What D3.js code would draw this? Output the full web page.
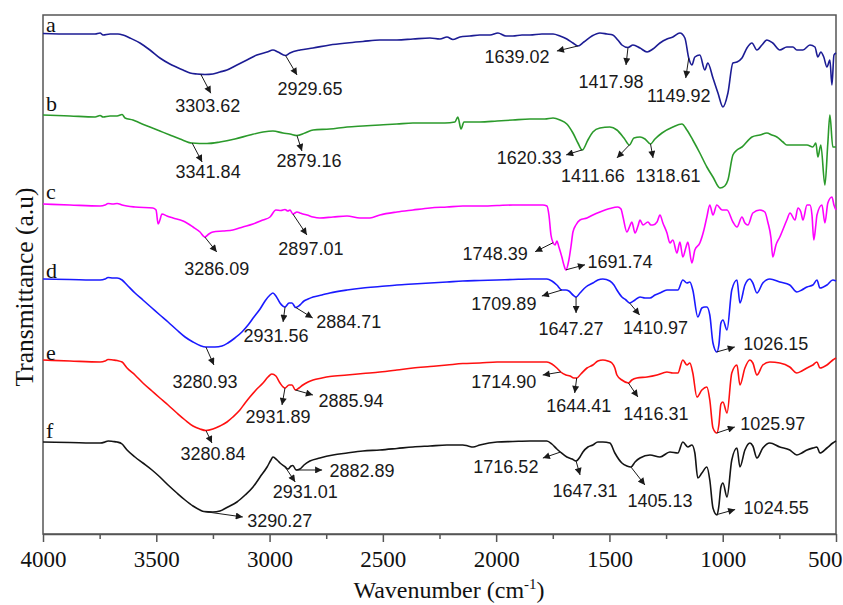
<!DOCTYPE html>
<html>
<head>
<meta charset="utf-8">
<script src="https://cdn.jsdelivr.net/npm/d3@7"></script>
<style>
  html, body { margin: 0; padding: 0; background: #fff; }
  svg { display: block; }
</style>
</head>
<body>
<svg id="chart" width="843" height="605"></svg>
<script>
// FTIR spectra, samples a–f, stacked with vertical offsets (transmittance, a.u.)
// Each series: [wavenumber (cm-1), transmittance (a.u., offset)]
const seriesA = [[4000,500.5],[3881,500],[3770,500],[3748,501],[3735,499],[3704,500],[3669,500],[3647,499],[3616,496],[3572,491],[3528,484],[3484,476],[3440,470],[3382,464],[3351,461],[3320,460],[3285,459.5],[3250,460],[3219,462],[3188,464],[3144,469],[3100,474],[3056,479],[3011,482],[2985,484],[2963,482],[2930,478.5],[2910,481],[2866,484],[2808,486],[2734,489],[2658,491],[2588,492.5],[2513,494],[2438,494],[2367,495],[2292,496],[2248,495],[2217,497],[2191,494.5],[2160,497],[2116,498],[2072,499],[2027,499],[1992,501],[1957,498],[1926,498],[1886,499],[1851,499],[1798,500],[1749,500],[1718,498],[1688,495],[1661,491],[1639,488],[1613,492],[1577,498],[1542,501],[1511,500],[1485,499],[1463,494],[1445,489],[1418,486.5],[1396,489],[1365,486],[1334,482],[1308,485],[1277,491],[1246,495],[1220,497],[1189,501],[1167,496],[1150,476],[1136,469],[1123,477],[1101,479],[1079,464],[1066,471],[1043,456],[1021,441],[999,427],[977,441],[955,471],[937,472],[915,476],[893,486],[871,491],[849,484],[827,489],[805,494],[779,491],[748,484],[717,487],[690,487],[673,484],[646,484],[615,489],[593,487],[580,477],[567,482],[554,477],[540,467],[527,474],[518,449],[509,479],[500,481]];

const seriesB = [[4000,419],[3881,418],[3770,417],[3748,418.5],[3735,417],[3704,418],[3673,418],[3651,419.5],[3638,416],[3603,414],[3572,411],[3528,407],[3484,403],[3440,399],[3395,395],[3343,391],[3276,390.5],[3219,392],[3153,395],[3087,399],[3029,402],[2985,403],[2941,401],[2910,400],[2879,398.5],[2844,401],[2808,404],[2734,405],[2658,407],[2588,408],[2513,409],[2438,410],[2367,411],[2292,411],[2226,411],[2182,412],[2169,417],[2155,405],[2142,412],[2072,412],[1996,413],[1926,414],[1851,415],[1785,415],[1749,416],[1718,414],[1688,410],[1661,401],[1639,391],[1620,384],[1595,394],[1573,402],[1542,406],[1498,407],[1467,404],[1436,396],[1412,389],[1392,396],[1365,397],[1343,395],[1319,390],[1299,395],[1268,401],[1220,407],[1180,410],[1158,404],[1132,394],[1101,381],[1070,367],[1043,357],[1012,346],[991,348],[977,354],[955,379],[937,384],[915,387],[871,397],[836,399],[805,401],[783,399],[761,397],[734,392],[717,389],[681,389],[659,389],[628,389],[602,387],[589,391],[580,377],[567,389],[549,349],[536,391],[527,419],[514,387],[500,387]];

const seriesC = [[4000,330],[3881,329],[3748,328],[3726,329],[3713,330.5],[3691,330],[3673,330.5],[3651,329],[3594,327],[3515,326],[3501,324],[3492,310],[3484,314],[3475,320],[3453,318],[3426,316],[3382,313],[3338,307],[3307,302],[3286,297],[3268,300],[3250,302],[3206,303],[3162,304],[3118,307],[3073,310],[3029,314],[2998,317],[2972,324],[2950,323.5],[2932,324.5],[2919,323],[2910,324],[2897,320],[2879,322],[2866,321],[2853,320],[2835,319],[2808,317],[2778,316],[2720,317],[2658,318],[2601,316],[2557,316],[2513,319],[2438,322],[2367,324],[2292,326],[2217,327],[2147,328],[2072,328],[1996,328.5],[1926,329],[1851,329],[1794,329],[1776,328],[1767,319],[1758,299],[1748,291],[1740,289],[1732,293],[1723,287],[1710,277],[1701,269],[1692,264],[1679,274],[1670,287],[1661,302],[1648,309],[1630,314],[1599,316],[1573,319],[1542,322],[1498,325.5],[1463,327],[1449,325],[1440,317],[1423,302],[1410,308],[1401,312],[1387,301],[1374,308],[1365,314],[1352,309],[1330,312],[1317,309],[1308,309],[1290,312],[1277,319],[1264,311],[1246,301],[1233,291],[1220,294],[1202,281],[1189,292],[1176,277],[1162,287],[1154,292],[1136,271],[1123,284],[1101,291],[1083,304],[1070,317],[1057,329],[1043,319],[1026,329],[1003,324],[981,324],[955,312],[937,307],[915,317],[902,311],[889,309],[867,321],[836,324],[814,322],[801,312],[787,296],[779,277],[765,289],[748,297],[717,314],[703,321],[681,314],[668,326],[655,322],[646,314],[628,329],[615,329],[606,319],[598,294],[589,309],[584,319],[562,329],[549,311],[536,331],[518,337],[509,329],[500,324]];

const seriesD = [[4000,255],[3881,254.5],[3748,254],[3726,255],[3713,256.5],[3691,256],[3673,256],[3651,254],[3629,249],[3594,241],[3559,234],[3519,226],[3484,219],[3448,212],[3409,204],[3373,197],[3338,192],[3307,188.5],[3281,187],[3241,187],[3210,188],[3184,191],[3153,196],[3122,202],[3095,209],[3069,217],[3042,225],[3020,233],[2998,239],[2985,241],[2972,238],[2954,231],[2932,227],[2914,231],[2901,231],[2885,226.5],[2866,229],[2848,233],[2830,235],[2808,237],[2769,239],[2734,241],[2658,244],[2588,246],[2513,247.5],[2438,249],[2367,250],[2292,251],[2217,252],[2147,253],[2072,253.5],[1996,254],[1926,254.5],[1851,255],[1776,255],[1754,253],[1732,249],[1710,244],[1692,244],[1679,243],[1661,239],[1647,237],[1630,241],[1604,247],[1573,251],[1551,254],[1529,255],[1498,253],[1480,249],[1467,244],[1445,237],[1427,234],[1411,231],[1387,234],[1365,237],[1343,236],[1321,236],[1299,239],[1277,241],[1246,244],[1220,244],[1198,244],[1176,254],[1158,251],[1145,252],[1132,244],[1110,217],[1092,226],[1079,227],[1070,227],[1057,219],[1043,191],[1026,182],[1017,189],[1008,211],[999,214],[981,204],[960,244],[937,254],[924,231],[902,249],[880,255],[867,251],[849,241],[823,251],[792,255],[748,252],[704,249],[673,242],[651,244],[628,247],[602,249],[584,254],[571,246],[540,249],[514,254],[500,253]];

const seriesE = [[4000,174],[3881,173],[3748,172],[3726,173],[3713,174.5],[3691,174],[3673,173.5],[3651,172],[3629,166],[3594,159],[3559,151],[3519,143],[3484,136],[3448,129],[3409,121],[3373,114],[3338,108],[3307,105],[3281,103.5],[3250,105],[3219,108],[3188,112],[3162,117],[3131,124],[3108,131],[3087,137],[3060,144],[3029,151],[3007,157],[2990,160],[2972,158],[2954,151],[2932,146],[2914,149],[2901,149],[2886,144],[2870,146],[2853,149],[2830,152],[2808,154],[2769,156],[2734,157.5],[2658,159],[2588,160.5],[2513,162],[2438,164],[2367,166],[2292,167.5],[2217,169],[2147,170.5],[2072,171],[1996,172],[1926,172],[1851,172],[1776,172],[1754,170],[1732,166],[1715,162],[1692,159],[1674,158],[1657,156],[1644,156],[1626,160],[1599,166],[1573,169],[1551,173],[1529,174],[1507,173],[1489,171],[1476,166],[1467,159],[1445,154],[1416,151],[1401,154],[1379,156],[1334,157],[1290,159],[1246,162],[1220,161],[1198,161],[1176,174],[1158,169],[1145,171],[1132,161],[1114,137],[1092,144],[1070,147],[1057,134],[1043,106],[1026,101],[1017,109],[1008,130],[999,132],[981,121],[960,161],[937,169],[924,149],[902,166],[880,174],[867,171],[849,159],[823,169],[792,172],[748,171],[704,167],[673,161],[651,163],[628,166],[602,169],[584,172],[571,166],[540,169],[514,174],[500,176]];

const seriesF = [[4000,92],[3881,91.5],[3748,91],[3726,92],[3713,93],[3691,92.5],[3673,92],[3651,90],[3629,84],[3594,77],[3559,71],[3519,64],[3484,57],[3448,49],[3409,41],[3373,34],[3338,28],[3307,24],[3290,22.5],[3250,22],[3219,23],[3184,27],[3144,32],[3108,39],[3073,47],[3042,57],[3011,67],[2994,74],[2985,77],[2967,74],[2954,71],[2931,67],[2919,65],[2905,68],[2897,68.5],[2883,64],[2866,65],[2848,69],[2822,73],[2778,76],[2720,79],[2658,81],[2588,83],[2513,84],[2438,85.5],[2367,87],[2292,88],[2217,89],[2147,89],[2124,88],[2102,87],[2072,89],[1996,92],[1926,92.5],[1851,93],[1776,93],[1754,90],[1732,85],[1717,82],[1688,77],[1665,75],[1647,73],[1630,77],[1617,82],[1595,87],[1573,89],[1551,92],[1529,92],[1498,91],[1476,81],[1445,71],[1423,68],[1405,67],[1387,72],[1365,76],[1321,79],[1277,77],[1233,82],[1198,81],[1176,92],[1154,87],[1136,89],[1123,81],[1110,56],[1092,61],[1070,67],[1057,54],[1043,26],[1025,19],[1017,28],[1008,47],[999,51],[981,37],[960,74],[937,86],[924,67],[902,84],[880,91],[867,88],[849,76],[823,86],[792,91],[748,87],[704,84],[673,79],[651,81],[628,84],[602,86],[584,87],[571,81],[540,86],[514,91],[500,93]];

// Labelled band positions (cm-1) for each sample
const peaksA = [3303.62, 2929.65, 1639.02, 1417.98, 1149.92];
const peaksB = [3341.84, 2879.16, 1620.33, 1411.66, 1318.61];
const peaksC = [3286.09, 2897.01, 1748.39, 1691.74];
const peaksD = [3280.93, 2931.56, 2884.71, 1709.89, 1647.27, 1410.97, 1026.15];
const peaksE = [3280.84, 2931.89, 2885.94, 1714.90, 1644.41, 1416.31, 1025.97];
const peaksF = [3290.27, 2931.01, 2882.89, 1716.52, 1647.31, 1405.13, 1024.55];

const sampleNames = ["a", "b", "c", "d", "e", "f"];
const majorTicks = [4000, 3500, 3000, 2500, 2000, 1500, 1000, 500];
const minorTicks = [3750, 3250, 2750, 2250, 1750, 1250, 750];

// ---- layout & style (pixels) ----
const colors = ["#1c1c94", "#2b9a2b", "#ff00ff", "#1a1aff", "#ff1010", "#141414"];
// callout layout per band: [arrowEndDx, arrowEndDy, textDx, textBaselineDy]
const calloutLayout = [
  [[10,19,7,38],[11.5,19.5,24.5,39.5],[-21,5,-61,17],[-2,17.5,-17,40.5],[-3,20,-10,44]],
  [[10,19,16,35],[5,15.5,12,31.5],[-16,5,-53,14],[-12.5,13,-36.5,37],[2.5,14,17.5,38]],
  [[12,15,12,38],[14,21,18,41],[-18,9,-58,17],[19,-5,54,-2]],
  [[8,18,-1,41],[-2,15,-9,35],[17,10.5,53,21],[-20,6,-58,20],[0,16,-5,38],[10,12,26,31],[18,-5,59,-2]],
  [[6,12.5,7,29.5],[-3,17,-7,35],[17.5,5,55.5,17],[-18,3,-57,16],[-2,15,2,34],[9.5,14,27.5,37],[18,-6,56,-3]],
  [[39,5.5,76,15.5],[10,15,20,31],[26,0,66,7],[-17.5,6,-54.5,21],[4,14,9,36],[14,18,29,40],[18,-5,59,0]]
];
const letterDy = [-2, -4, -5, -1, 0, -4];

const serifFont = "'Liberation Serif', 'Times New Roman', serif";
const sansFont = "'Liberation Sans', Arial, sans-serif";

const allSeries = [seriesA, seriesB, seriesC, seriesD, seriesE, seriesF];
const allPeaks = [peaksA, peaksB, peaksC, peaksD, peaksE, peaksF];

const margin = {left: 43, right: 836, top: 15, bottom: 534};
const svg = d3.select("#chart");

const x = d3.scaleLinear().domain([4000, 500]).range([margin.left, margin.right]);
const y = d3.scaleLinear().domain([0, 519]).range([margin.bottom, margin.top]);

// arrowhead marker
svg.append("defs").append("marker")
  .attr("id", "arrow")
  .attr("viewBox", "0 0 10 10")
  .attr("refX", 10).attr("refY", 5)
  .attr("markerWidth", 9).attr("markerHeight", 7)
  .attr("markerUnits", "userSpaceOnUse")
  .attr("orient", "auto")
  .append("path").attr("d", "M0,0 L10,5 L0,10 z").attr("fill", "#1a1a1a");

// frame
svg.append("rect")
  .attr("x", margin.left).attr("y", margin.top)
  .attr("width", margin.right - margin.left).attr("height", margin.bottom - margin.top)
  .attr("fill", "none").attr("stroke", "#555").attr("stroke-width", 1.5);

// spectra
const line = d3.line().x(d => x(d[0])).y(d => y(d[1])).curve(d3.curveMonotoneX);

function valueAt(series, wn) {
  for (let i = 0; i < series.length - 1; i++) {
    const [w0, v0] = series[i], [w1, v1] = series[i + 1];
    if (wn <= w0 && wn >= w1) {
      const t = (w0 - wn) / (w0 - w1);
      return v0 + t * (v1 - v0);
    }
  }
  return series[series.length - 1][1];
}

allSeries.forEach((s, i) => {
  svg.append("path")
    .datum(s)
    .attr("d", line)
    .attr("fill", "none")
    .attr("stroke", colors[i])
    .attr("stroke-width", 1.6)
    .attr("stroke-linejoin", "round");

  svg.append("text")
    .attr("x", margin.left + 3)
    .attr("y", y(s[0][1]) + letterDy[i])
    .style("font-family", serifFont)
    .style("font-size", "22px")
    .attr("fill", "#111")
    .text(sampleNames[i]);
});

// band callouts
allPeaks.forEach((peaks, i) => {
  peaks.forEach((wn, j) => {
    const px = x(wn), py = y(valueAt(allSeries[i], wn));
    const [ex, ey, tx, ty] = calloutLayout[i][j];
    svg.append("line")
      .attr("x1", px).attr("y1", py)
      .attr("x2", px + ex).attr("y2", py + ey)
      .attr("stroke", "#1a1a1a").attr("stroke-width", 1)
      .attr("marker-end", "url(#arrow)");
    svg.append("text")
      .attr("x", px + tx).attr("y", py + ty)
      .attr("text-anchor", "middle")
      .style("font-family", sansFont)
      .style("font-size", "18px")
      .attr("fill", "#1a1a1a")
      .text(wn.toFixed(2));
  });
});

// x axis
const xAxis = d3.axisBottom(x).tickValues(majorTicks).tickSize(8).tickSizeOuter(0)
  .tickPadding(9).tickFormat(d3.format("d"));
const gx = svg.append("g").attr("transform", `translate(0,${margin.bottom})`).call(xAxis);
gx.attr("font-family", null).attr("font-size", null);
gx.select(".domain").attr("stroke", "#555").attr("stroke-width", 1.5);
gx.selectAll(".tick line").attr("stroke", "#555").attr("stroke-width", 1.5);
gx.selectAll(".tick text")
  .style("font-family", serifFont)
  .style("font-size", "23px").attr("fill", "#111");
// last label sits at the right edge of the page
gx.selectAll(".tick text").filter(d => d === 500)
  .attr("text-anchor", "end").attr("x", 842 - x(500));

const gm = svg.append("g").attr("transform", `translate(0,${margin.bottom})`)
  .call(d3.axisBottom(x).tickValues(minorTicks).tickSize(5).tickSizeOuter(0).tickFormat(""));
gm.select(".domain").remove();
gm.selectAll(".tick line").attr("stroke", "#555").attr("stroke-width", 1.5);

// axis titles
const xt = svg.append("text")
  .attr("x", 449).attr("y", 598)
  .attr("text-anchor", "middle")
  .style("font-family", serifFont)
  .style("font-size", "24px").attr("fill", "#111");
xt.append("tspan").text("Wavenumber (cm");
xt.append("tspan").style("font-size", "15px").attr("dy", -9).text("-1");
xt.append("tspan").attr("dy", 9).text(")");

svg.append("text")
  .attr("transform", "translate(33,287) rotate(-90)")
  .attr("text-anchor", "middle")
  .style("font-family", serifFont)
  .style("font-size", "25.5px").attr("fill", "#111")
  .text("Transmittance (a.u)");
</script>
</body>
</html>
